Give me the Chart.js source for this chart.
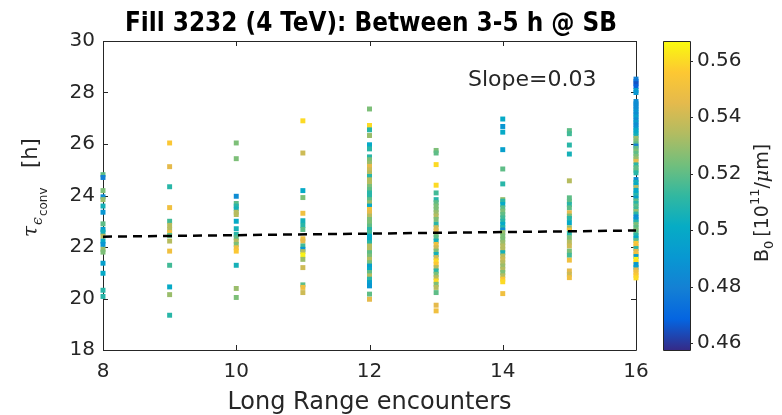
<!DOCTYPE html>
<html>
<head>
<meta charset="utf-8">
<script src="https://cdn.jsdelivr.net/npm/chart.js@4/dist/chart.umd.min.js"></script>
<style>
  html, body { margin: 0; padding: 0; background: #fff; }
</style>
</head>
<body>
<canvas id="myChart" width="782" height="415"></canvas>
<script>
// tau_eps_conv [h] per long range encounter count, and bunch brightness B0 for colour
const encounters = [8, 9, 10, 11, 12, 13, 14, 15, 16];

const tau8 = [24.81, 24.70, 24.19, 23.95, 23.84, 23.59, 23.35, 22.90, 22.68, 22.58, 22.42, 22.23, 22.10, 21.91, 21.80, 21.37, 20.98, 20.32, 20.08];
const b8 = [0.52, 0.48, 0.525, 0.485, 0.53, 0.505, 0.49, 0.52, 0.495, 0.505, 0.535, 0.50, 0.49, 0.53, 0.525, 0.495, 0.50, 0.51, 0.51];

const tau9 = [26.04, 25.12, 24.34, 23.53, 23.00, 22.84, 22.68, 22.56, 22.45, 22.23, 21.84, 21.29, 20.45, 20.15, 19.35];
const b9 = [0.555, 0.545, 0.51, 0.55, 0.515, 0.535, 0.535, 0.55, 0.52, 0.535, 0.55, 0.515, 0.50, 0.53, 0.51];

const tau10 = [26.04, 25.43, 23.97, 23.69, 23.59, 23.48, 23.35, 23.26, 23.00, 22.71, 22.49, 22.36, 22.23, 22.10, 21.97, 21.84, 21.29, 20.39, 20.04];
const b10 = [0.525, 0.525, 0.485, 0.52, 0.51, 0.505, 0.535, 0.535, 0.50, 0.505, 0.51, 0.52, 0.535, 0.525, 0.55, 0.555, 0.505, 0.53, 0.525];

const tau11 = [26.90, 25.65, 24.19, 23.92, 23.31, 23.02, 22.84, 22.68, 22.32, 22.23, 22.04, 21.91, 21.82, 21.69, 21.52, 21.20, 20.53, 20.43, 20.23];
const b11 = [0.56, 0.54, 0.50, 0.525, 0.55, 0.505, 0.51, 0.52, 0.55, 0.545, 0.515, 0.49, 0.535, 0.565, 0.53, 0.54, 0.52, 0.55, 0.54];

const tau12 = [27.36, 26.72, 26.55, 26.33, 25.97, 25.81,
  25.50, 25.39, 25.26, 25.13, 25.00, 24.87, 24.74, 24.61, 24.48, 24.35,
  24.23, 24.10, 23.97, 23.84, 23.72, 23.59, 23.46, 23.33, 23.20, 23.07,
  22.94, 22.81, 22.68, 22.56, 22.42, 22.30, 22.17, 22.04, 21.91, 21.78,
  21.65, 21.52, 21.39, 21.26, 21.13, 21.01, 20.88, 20.75, 20.62, 20.49,
  20.17, 19.97];
const b12 = [0.525, 0.56, 0.51, 0.53, 0.50, 0.51,
  0.51, 0.525, 0.53, 0.545, 0.54, 0.535, 0.51, 0.535, 0.535, 0.525,
  0.52, 0.51, 0.51, 0.52, 0.53, 0.50, 0.55, 0.545, 0.535, 0.525,
  0.525, 0.52, 0.51, 0.515, 0.50, 0.50, 0.51, 0.535, 0.535, 0.52,
  0.525, 0.535, 0.525, 0.495, 0.50, 0.52, 0.535, 0.51, 0.495, 0.49,
  0.52, 0.545];

const tau13 = [25.75, 25.65, 25.20, 24.40, 24.10,
  23.84, 23.72, 23.59, 23.46, 23.33, 23.20, 23.07, 22.88, 22.75, 22.62,
  22.49, 22.36, 22.23, 22.10, 21.97, 21.84, 21.71, 21.59, 21.46, 21.33,
  21.20, 21.07, 20.94, 20.81, 20.68, 20.55, 20.43,
  20.23, 19.74, 19.52];
const b13 = [0.525, 0.52, 0.56, 0.56, 0.515,
  0.51, 0.52, 0.525, 0.525, 0.53, 0.535, 0.525, 0.51, 0.54, 0.545,
  0.525, 0.52, 0.505, 0.55, 0.54, 0.525, 0.505, 0.54, 0.56, 0.555,
  0.535, 0.51, 0.525, 0.535, 0.56, 0.525, 0.535,
  0.52, 0.545, 0.55];

const tau14 = [26.97, 26.68, 26.46, 25.78, 25.03, 24.45,
  23.84, 23.78, 23.65, 23.52, 23.39, 23.26, 23.13, 23.00, 22.88, 22.75,
  22.66, 22.56, 22.43, 22.30, 22.17, 22.04, 21.91, 21.78, 21.65, 21.52,
  21.39, 21.26, 21.13, 21.01, 20.88, 20.75, 20.65,
  20.19];
const b14 = [0.50, 0.49, 0.50, 0.495, 0.52, 0.51,
  0.53, 0.51, 0.50, 0.52, 0.525, 0.52, 0.515, 0.51, 0.50, 0.51,
  0.485, 0.53, 0.525, 0.525, 0.53, 0.535, 0.535, 0.505, 0.535, 0.54,
  0.535, 0.53, 0.535, 0.525, 0.535, 0.555, 0.56,
  0.55];

const tau15 = [26.52, 26.40, 25.96, 25.61, 24.57,
  23.91, 23.78, 23.65, 23.52, 23.33, 23.20, 23.11, 22.94, 22.75, 22.66,
  22.53, 22.36, 22.19, 22.04, 21.84, 21.68, 21.49, 21.07, 20.94, 20.81];
const b15 = [0.52, 0.515, 0.51, 0.505, 0.535,
  0.52, 0.52, 0.51, 0.52, 0.545, 0.525, 0.51, 0.50, 0.53, 0.55,
  0.51, 0.525, 0.535, 0.54, 0.525, 0.515, 0.55, 0.545, 0.54, 0.55];

const tau16 = [28.52, 28.43, 28.34, 28.23, 28.08, 28.00, 27.65, 27.56, 27.46, 27.36,
  27.25, 27.15, 27.05, 26.94, 26.84, 26.74, 26.63, 26.53, 26.43, 26.32,
  26.22, 26.12, 26.01, 25.92, 25.83, 25.73, 25.63, 25.52, 25.42, 25.32,
  25.19, 25.08, 24.98, 24.88, 24.62, 24.51, 24.41, 24.31, 24.20, 24.10,
  24.00, 23.90, 23.79, 23.69, 23.59, 23.48, 23.38, 23.28, 23.17, 23.07,
  22.97, 22.87, 22.76, 22.66, 22.56, 22.45, 22.35, 22.25, 22.14, 22.04,
  21.94, 21.83, 21.73, 21.63, 21.52, 21.42, 21.32, 21.21, 21.11, 21.01,
  20.90, 20.80];
const b16 = [0.48, 0.475, 0.465, 0.468, 0.495, 0.49, 0.485, 0.485, 0.485, 0.485,
  0.49, 0.485, 0.495, 0.485, 0.495, 0.485, 0.49, 0.50, 0.50, 0.505,
  0.53, 0.525, 0.52, 0.48, 0.52, 0.525, 0.52, 0.525, 0.53, 0.545,
  0.51, 0.52, 0.52, 0.51, 0.485, 0.505, 0.50, 0.535, 0.50, 0.50,
  0.51, 0.495, 0.52, 0.51, 0.52, 0.515, 0.53, 0.51, 0.485, 0.49,
  0.51, 0.525, 0.52, 0.525, 0.52, 0.51, 0.50, 0.52, 0.555, 0.55,
  0.51, 0.545, 0.55, 0.495, 0.565, 0.56, 0.49, 0.495, 0.545, 0.55,
  0.555, 0.56];

const tauCols = [tau8, tau9, tau10, tau11, tau12, tau13, tau14, tau15, tau16];
const bCols = [b8, b9, b10, b11, b12, b13, b14, b15, b16];

// linear fit
const fitX = [8, 16];
const fitY = [22.40, 22.64];
const slopeText = 'Slope=0.03';

const xTicks = [8, 10, 12, 14, 16];
const yTicks = [18, 20, 22, 24, 26, 28, 30];
const cbTicks = [0.46, 0.48, 0.50, 0.52, 0.54, 0.56];
const cbMin = 0.4575, cbMax = 0.567;

// parula colour map stops
const parula = [
  [0.00, [53, 42, 135]], [0.10, [4, 101, 225]], [0.20, [20, 128, 212]],
  [0.30, [8, 152, 210]], [0.40, [6, 172, 197]], [0.50, [50, 184, 160]],
  [0.60, [114, 191, 124]], [0.70, [178, 188, 97]], [0.80, [229, 186, 76]],
  [0.90, [253, 200, 50]], [1.00, [249, 251, 14]]
];
function parulaColor(f) {
  f = Math.max(0, Math.min(1, f));
  for (let i = 1; i < parula.length; i++) {
    if (f <= parula[i][0]) {
      const [f0, c0] = parula[i - 1], [f1, c1] = parula[i];
      const t = (f - f0) / (f1 - f0);
      const c = c0.map((v, k) => Math.round(v + (c1[k] - v) * t));
      return `rgb(${c[0]},${c[1]},${c[2]})`;
    }
  }
  return 'rgb(249,251,14)';
}

const points = [], colors = [];
encounters.forEach((e, i) => {
  tauCols[i].forEach((t, j) => {
    points.push({ x: e, y: t });
    colors.push(parulaColor((bCols[i][j] - cbMin) / (cbMax - cbMin)));
  });
});

const axisColor = '#262626';
const tickFont = { family: "'DejaVu Sans', sans-serif", size: 20 };

const matlabAxes = {
  id: 'matlabAxes',
  beforeDatasetsDraw(chart) {
    const { ctx, chartArea: a, scales: { x, y, cb } } = chart;
    ctx.save();
    ctx.strokeStyle = axisColor;
    ctx.lineWidth = 1;
    ctx.beginPath();
    ctx.rect(a.left + 0.5, a.top + 0.5, a.right - a.left, a.bottom - a.top);
    xTicks.forEach(v => {
      const px = Math.round(x.getPixelForValue(v)) + 0.5;
      ctx.moveTo(px, a.bottom); ctx.lineTo(px, a.bottom - 5);
      ctx.moveTo(px, a.top); ctx.lineTo(px, a.top + 5);
    });
    yTicks.forEach(v => {
      const py = Math.round(y.getPixelForValue(v)) + 0.5;
      ctx.moveTo(a.left, py); ctx.lineTo(a.left + 5, py);
      ctx.moveTo(a.right, py); ctx.lineTo(a.right - 5, py);
    });
    ctx.stroke();

    // colour bar
    const bx0 = cb.left + 27, bx1 = cb.left + 54;
    const grad = ctx.createLinearGradient(0, cb.bottom, 0, cb.top);
    parula.forEach(([f, c]) => grad.addColorStop(f, `rgb(${c[0]},${c[1]},${c[2]})`));
    ctx.fillStyle = grad;
    ctx.fillRect(bx0, cb.top, bx1 - bx0, cb.bottom - cb.top);
    ctx.beginPath();
    ctx.rect(bx0 + 0.5, cb.top + 0.5, bx1 - bx0, cb.bottom - cb.top);
    cbTicks.forEach(v => {
      const py = Math.round(cb.getPixelForValue(v)) + 0.5;
      ctx.moveTo(bx1, py); ctx.lineTo(bx1 + 3, py);
    });
    ctx.stroke();
    ctx.restore();
  },
  afterDraw(chart) {
    const { ctx, chartArea: a } = chart;
    const cx = (a.left + a.right) / 2;
    ctx.save();
    ctx.fillStyle = '#000';
    ctx.textBaseline = 'alphabetic';

    // title
    const title = 'Fill 3232 (4 TeV): Between 3-5 h @ SB';
    ctx.font = "bold 26px 'DejaVu Sans Condensed', 'DejaVu Sans', sans-serif";
    const tw = ctx.measureText(title).width;
    ctx.save();
    ctx.translate(371, 31);
    ctx.scale(492 / tw, 1);
    ctx.textAlign = 'center';
    ctx.fillText(title, 0, 0);
    ctx.restore();

    ctx.fillStyle = axisColor;
    // x axis title
    ctx.font = "24px 'DejaVu Sans', sans-serif";
    ctx.textAlign = 'center';
    ctx.fillText('Long Range encounters', cx, 409);

    // slope annotation
    ctx.font = "22px 'DejaVu Sans', sans-serif";
    ctx.textAlign = 'left';
    ctx.fillText(slopeText, 468, 86);

    // y axis label: tau_{eps_conv} [h]
    ctx.save();
    ctx.translate(37, 237);
    ctx.rotate(-Math.PI / 2);
    ctx.textAlign = 'left';
    let px = 0;
    ctx.font = "italic 20px 'DejaVu Serif', serif";
    ctx.fillText('τ', px, 0); px += ctx.measureText('τ').width + 1;
    ctx.font = "italic 14px 'DejaVu Serif', serif";
    ctx.fillText('ϵ', px, 5); px += ctx.measureText('ϵ').width + 1;
    ctx.font = "12px 'DejaVu Sans', sans-serif";
    ctx.fillText('conv', px, 10);
    ctx.font = "21px 'DejaVu Sans', sans-serif";
    ctx.fillText('[h]', 69, 0);
    ctx.restore();

    // colour bar label: B_0 [10^11/um]
    ctx.save();
    ctx.translate(768, 262);
    ctx.rotate(-Math.PI / 2);
    ctx.textAlign = 'left';
    px = 0;
    ctx.font = "19px 'DejaVu Sans', sans-serif";
    ctx.fillText('B', px, 0); px += ctx.measureText('B').width;
    ctx.font = "13px 'DejaVu Sans', sans-serif";
    ctx.fillText('0', px, 5); px += ctx.measureText('0').width + 4;
    ctx.font = "19px 'DejaVu Sans', sans-serif";
    ctx.fillText('[10', px, 0); px += ctx.measureText('[10').width;
    ctx.font = "13px 'DejaVu Sans', sans-serif";
    ctx.fillText('11', px, -9); px += ctx.measureText('11').width;
    ctx.font = "19px 'DejaVu Sans', sans-serif";
    ctx.fillText('/', px, 0); px += ctx.measureText('/').width;
    ctx.font = "italic 19px 'DejaVu Serif', serif";
    ctx.fillText('μ', px, 0); px += ctx.measureText('μ').width;
    ctx.font = "19px 'DejaVu Sans', sans-serif";
    ctx.fillText('m]', px, 0);
    ctx.restore();
    ctx.restore();
  }
};

const ctx = document.getElementById('myChart').getContext('2d');
const chart = new Chart(ctx, {
  type: 'scatter',
  data: {
    datasets: [{
      label: 'fit',
      type: 'line',
      data: fitX.map((v, i) => ({ x: v, y: fitY[i] })),
      borderColor: '#000',
      borderWidth: 2.5,
      borderDash: [9, 6],
      pointRadius: 0,
      fill: false,
      order: 0
    }, {
      label: 'tau',
      data: points,
      backgroundColor: colors,
      pointStyle: 'rect',
      pointRadius: 3.5,
      borderWidth: 0,
      clip: false,
      order: 1
    }]
  },
  options: {
    responsive: false,
    animation: false,
    events: [],
    layout: { padding: { top: 41, left: 0, right: 0, bottom: 0 } },
    plugins: { legend: { display: false }, tooltip: { enabled: false } },
    scales: {
      x: {
        type: 'linear', min: 8, max: 16,
        afterFit: s => { s.height = 65; },
        afterBuildTicks: s => { s.ticks = xTicks.map(v => ({ value: v })); },
        grid: { display: false, drawTicks: false },
        border: { display: false },
        ticks: { font: tickFont, color: axisColor, padding: 10, maxRotation: 0 }
      },
      y: {
        type: 'linear', min: 18, max: 30,
        afterFit: s => { s.width = 103; },
        afterBuildTicks: s => { s.ticks = yTicks.map(v => ({ value: v })); },
        grid: { display: false, drawTicks: false },
        border: { display: false },
        ticks: { font: tickFont, color: axisColor, padding: 8 }
      },
      cb: {
        type: 'linear', position: 'right', min: cbMin, max: cbMax,
        afterFit: s => { s.width = 146; },
        afterBuildTicks: s => { s.ticks = cbTicks.map(v => ({ value: v })); },
        grid: { drawOnChartArea: false, drawTicks: true, tickLength: 56, color: 'rgba(0,0,0,0)' },
        border: { display: false },
        ticks: { font: tickFont, color: axisColor, padding: 5, callback: v => String(+v.toFixed(2)) }
      }
    }
  },
  plugins: [matlabAxes]
});
</script>
</body>
</html>
